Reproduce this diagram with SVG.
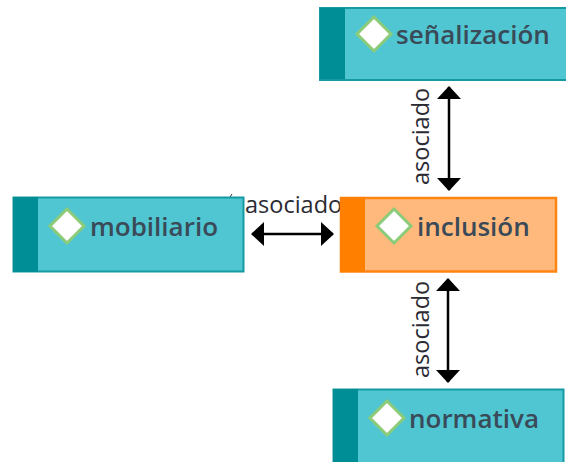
<svg xmlns="http://www.w3.org/2000/svg" width="566" height="462" viewBox="0 0 566 462">
<style>
.lbl{font-family:"Open Sans","Noto Sans",sans-serif;font-size:23.500px;fill:#2b2b33}
.name{font-family:"Open Sans","Noto Sans",sans-serif;font-size:26px;font-weight:600;fill:#3a4a58}
.teal{fill:#4FC6D1;stroke:#159AA3;stroke-width:2}
.tealband{fill:#008E96}
.or{fill:#FFB97C;stroke:#FF8412;stroke-width:2.5}
.orband{fill:#FF7F00}
.dia{fill:#fff;stroke:#8CCB78;stroke-width:3}
.arr{fill:none;stroke:#000;stroke-width:2.5;marker-start:url(#h);marker-end:url(#h)}
</style>
<defs>
<marker id="h" markerUnits="userSpaceOnUse" viewBox="0 0 13 24" refX="12" refY="12" markerWidth="13" markerHeight="24" orient="auto-start-reverse"><path d="M0 0L13 12L0 24Z" fill="#000"/></marker>
</defs>
<g id="connectors">
<line class="arr" x1="449" y1="87" x2="449" y2="190"/>
<line class="arr" x1="448" y1="279" x2="448" y2="382"/>
<line class="arr" x1="252" y1="234" x2="333" y2="234"/>
<text class="lbl" transform="translate(245 213)">asociado</text>
<text class="lbl" transform="translate(429 185) rotate(-90)">asociado</text>
<text class="lbl" transform="translate(429 378) rotate(-90)">asociado</text>
<line x1="229.500" y1="198" x2="232" y2="194" stroke="#333" stroke-width="1"/>
</g>
<g id="node-senalizacion">
<rect class="teal" x="320" y="8" width="250" height="72"/>
<rect class="tealband" x="320" y="8" width="25" height="71"/>
<path class="dia" d="M374 17L391 34L374 51L357 34Z"/>
<text class="name" x="396" y="44">señalización</text>
</g>
<g id="node-mobiliario">
<rect class="teal" x="13.500" y="197.500" width="230" height="74"/>
<rect class="tealband" x="13" y="197" width="25" height="75"/>
<path class="dia" d="M67 209L84 226L67 243L50 226Z"/>
<text class="name" x="90" y="236">mobiliario</text>
</g>
<g id="node-inclusion">
<rect class="or" x="341" y="198" width="215" height="73.500"/>
<rect class="orband" x="340" y="197" width="25" height="75"/>
<path class="dia" d="M394 209L411 226L394 243L377 226Z"/>
<text class="name" x="417" y="236">inclusión</text>
</g>
<g id="node-normativa">
<rect class="teal" x="333.500" y="389.500" width="230" height="76"/>
<rect class="tealband" x="333" y="389" width="25" height="73"/>
<path class="dia" d="M387 401L404 418L387 435L370 418Z"/>
<text class="name" x="409" y="428">normativa</text>
</g>
</svg>
